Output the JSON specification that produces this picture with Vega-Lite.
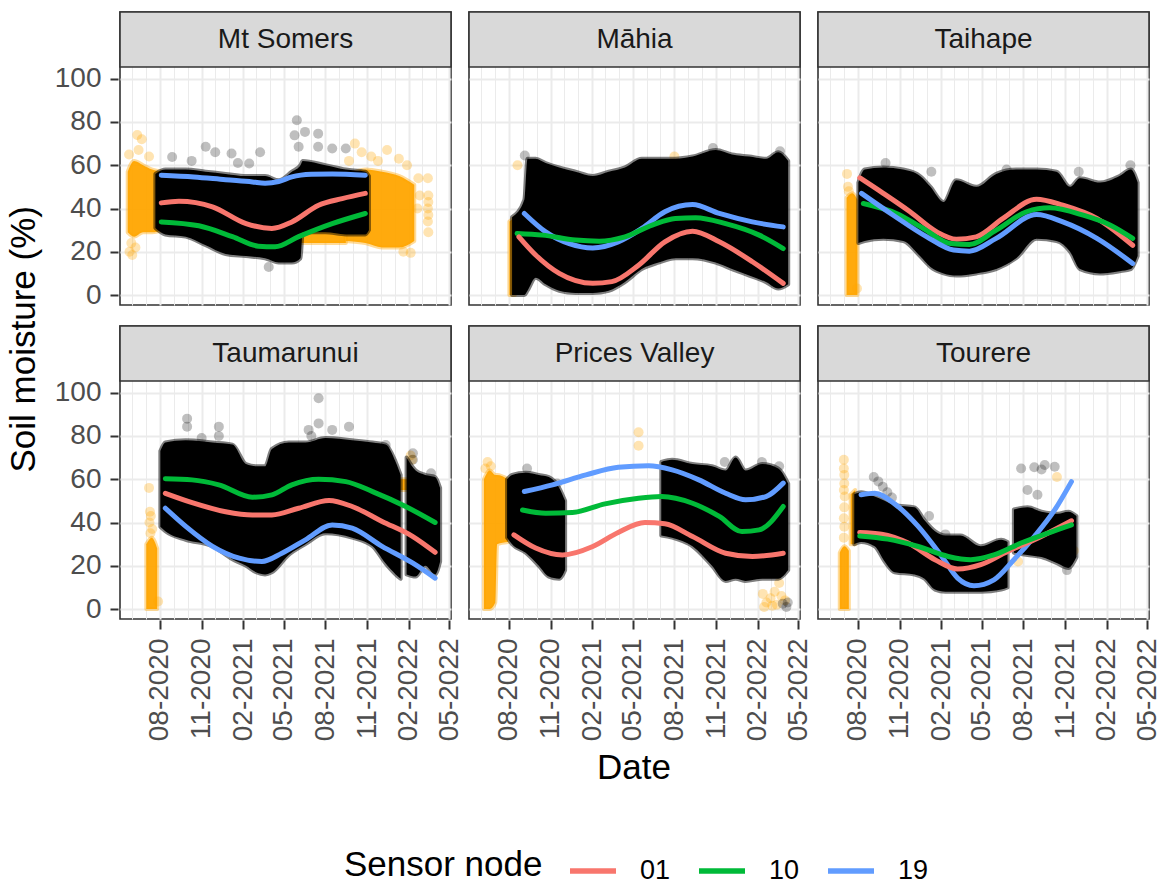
{
  "$schema": "https://vega.github.io/schema/vega-lite/v6.json",
  "background": "#FFFFFF",
  "padding": {"left": 6, "top": 10, "right": 8, "bottom": 0},
  "autosize": {"type": "pad"},
  "config": {
    "font": "Liberation Sans",
    "view": {"stroke": "#333333", "strokeWidth": 1.6, "fill": "#FFFFFF"},
    "axis": {
      "domain": false,
      "gridColor": "#EBEBEB",
      "labelFont": "Liberation Sans",
      "labelFontSize": 28,
      "labelColor": "#4D4D4D",
      "tickColor": "#333333",
      "tickWidth": 2
    },
    "legend": {"labelFont": "Liberation Sans", "titleFont": "Liberation Sans"}
  },
  "datasets": {
    "sites": [
      {"site": "Mt Somers", "prow": 1, "pcol": 1},
      {"site": "Māhia", "prow": 1, "pcol": 2},
      {"site": "Taihape", "prow": 1, "pcol": 3},
      {"site": "Taumarunui", "prow": 2, "pcol": 1},
      {"site": "Prices Valley", "prow": 2, "pcol": 2},
      {"site": "Tourere", "prow": 2, "pcol": 3}
    ],
    "soil": [
      {"site":"Mt Somers","kind":"strip"},
      {"site":"Māhia","kind":"strip"},
      {"site":"Taihape","kind":"strip"},
      {"site":"Taumarunui","kind":"strip"},
      {"site":"Prices Valley","kind":"strip"},
      {"site":"Tourere","kind":"strip"},

      {"site":"Mt Somers","kind":"fit","node":"01","date":"2020-08-04","v":42.6},
      {"site":"Mt Somers","kind":"fit","node":"01","date":"2020-09-12","v":43.4},
      {"site":"Mt Somers","kind":"fit","node":"01","date":"2020-11-25","v":40.8},
      {"site":"Mt Somers","kind":"fit","node":"01","date":"2021-02-07","v":33},
      {"site":"Mt Somers","kind":"fit","node":"01","date":"2021-04-05","v":30.8},
      {"site":"Mt Somers","kind":"fit","node":"01","date":"2021-05-19","v":33.8},
      {"site":"Mt Somers","kind":"fit","node":"01","date":"2021-07-17","v":41.5},
      {"site":"Mt Somers","kind":"fit","node":"01","date":"2021-09-07","v":44.6},
      {"site":"Mt Somers","kind":"fit","node":"01","date":"2021-10-28","v":47},
      {"site":"Mt Somers","kind":"fit","node":"10","date":"2020-08-04","v":33.8},
      {"site":"Mt Somers","kind":"fit","node":"10","date":"2020-10-26","v":32},
      {"site":"Mt Somers","kind":"fit","node":"10","date":"2021-01-08","v":27},
      {"site":"Mt Somers","kind":"fit","node":"10","date":"2021-03-06","v":22.6},
      {"site":"Mt Somers","kind":"fit","node":"10","date":"2021-04-12","v":22.3},
      {"site":"Mt Somers","kind":"fit","node":"10","date":"2021-06-03","v":27},
      {"site":"Mt Somers","kind":"fit","node":"10","date":"2021-08-16","v":33},
      {"site":"Mt Somers","kind":"fit","node":"10","date":"2021-10-28","v":37.7},
      {"site":"Mt Somers","kind":"fit","node":"19","date":"2020-08-04","v":55.4},
      {"site":"Mt Somers","kind":"fit","node":"19","date":"2020-10-15","v":54.6},
      {"site":"Mt Somers","kind":"fit","node":"19","date":"2020-12-24","v":53.3},
      {"site":"Mt Somers","kind":"fit","node":"19","date":"2021-02-21","v":52.3},
      {"site":"Mt Somers","kind":"fit","node":"19","date":"2021-03-21","v":51.7},
      {"site":"Mt Somers","kind":"fit","node":"19","date":"2021-04-20","v":52.5},
      {"site":"Mt Somers","kind":"fit","node":"19","date":"2021-05-19","v":54.6},
      {"site":"Mt Somers","kind":"fit","node":"19","date":"2021-07-01","v":55.8},
      {"site":"Mt Somers","kind":"fit","node":"19","date":"2021-08-16","v":56},
      {"site":"Mt Somers","kind":"fit","node":"19","date":"2021-10-28","v":55.4},
      {"site":"Mt Somers","kind":"band","col":"orange","grp":"o1","date":"2020-05-22","lo":29,"hi":57},
      {"site":"Mt Somers","kind":"band","col":"orange","grp":"o1","date":"2020-06-05","lo":27,"hi":62},
      {"site":"Mt Somers","kind":"band","col":"orange","grp":"o1","date":"2020-06-25","lo":29,"hi":60},
      {"site":"Mt Somers","kind":"band","col":"orange","grp":"o1","date":"2020-07-15","lo":29,"hi":58},
      {"site":"Mt Somers","kind":"band","col":"orange","grp":"o1","date":"2020-08-06","lo":30,"hi":57},
      {"site":"Mt Somers","kind":"band","col":"orange","grp":"o2","date":"2021-06-05","lo":24,"hi":30},
      {"site":"Mt Somers","kind":"band","col":"orange","grp":"o2","date":"2021-09-15","lo":24,"hi":30},
      {"site":"Mt Somers","kind":"band","col":"orange","grp":"o3","date":"2021-09-15","lo":25,"hi":55},
      {"site":"Mt Somers","kind":"band","col":"orange","grp":"o3","date":"2021-10-28","lo":24,"hi":58},
      {"site":"Mt Somers","kind":"band","col":"orange","grp":"o3","date":"2021-12-04","lo":22,"hi":57},
      {"site":"Mt Somers","kind":"band","col":"orange","grp":"o3","date":"2022-01-11","lo":22,"hi":55},
      {"site":"Mt Somers","kind":"band","col":"orange","grp":"o3","date":"2022-02-13","lo":25,"hi":51},
      {"site":"Mt Somers","kind":"band","col":"black","grp":"b1","date":"2020-07-22","lo":31,"hi":56},
      {"site":"Mt Somers","kind":"band","col":"black","grp":"b1","date":"2020-08-13","lo":28,"hi":58},
      {"site":"Mt Somers","kind":"band","col":"black","grp":"b1","date":"2020-09-27","lo":27,"hi":58},
      {"site":"Mt Somers","kind":"band","col":"black","grp":"b1","date":"2020-11-10","lo":23,"hi":57},
      {"site":"Mt Somers","kind":"band","col":"black","grp":"b1","date":"2020-12-24","lo":19,"hi":56},
      {"site":"Mt Somers","kind":"band","col":"black","grp":"b1","date":"2021-02-07","lo":18,"hi":55},
      {"site":"Mt Somers","kind":"band","col":"black","grp":"b1","date":"2021-03-21","lo":17,"hi":55},
      {"site":"Mt Somers","kind":"band","col":"black","grp":"b1","date":"2021-04-20","lo":15,"hi":53},
      {"site":"Mt Somers","kind":"band","col":"black","grp":"b1","date":"2021-05-19","lo":15,"hi":57},
      {"site":"Mt Somers","kind":"band","col":"black","grp":"b1","date":"2021-06-07","lo":17,"hi":60},
      {"site":"Mt Somers","kind":"band","col":"black","grp":"b1","date":"2021-06-12","lo":29,"hi":62},
      {"site":"Mt Somers","kind":"band","col":"black","grp":"b1","date":"2021-08-01","lo":29,"hi":60},
      {"site":"Mt Somers","kind":"band","col":"black","grp":"b1","date":"2021-09-15","lo":28,"hi":58},
      {"site":"Mt Somers","kind":"band","col":"black","grp":"b1","date":"2021-10-28","lo":28,"hi":57},
      {"site":"Mt Somers","kind":"band","col":"black","grp":"b1","date":"2021-11-05","lo":30,"hi":55},
      {"site":"Mt Somers","kind":"pt","col":"orange","date":"2020-05-26","v":20},
      {"site":"Mt Somers","kind":"pt","col":"orange","date":"2020-06-01","v":18.5},
      {"site":"Mt Somers","kind":"pt","col":"orange","date":"2020-06-08","v":22},
      {"site":"Mt Somers","kind":"pt","col":"orange","date":"2020-05-30","v":24},
      {"site":"Mt Somers","kind":"pt","col":"orange","date":"2020-06-12","v":74},
      {"site":"Mt Somers","kind":"pt","col":"orange","date":"2020-06-22","v":72},
      {"site":"Mt Somers","kind":"pt","col":"orange","date":"2020-06-15","v":67},
      {"site":"Mt Somers","kind":"pt","col":"orange","date":"2020-05-25","v":65},
      {"site":"Mt Somers","kind":"pt","col":"orange","date":"2020-07-08","v":64},
      {"site":"Mt Somers","kind":"pt","col":"orange","date":"2021-09-22","v":62},
      {"site":"Mt Somers","kind":"pt","col":"orange","date":"2021-10-05","v":70},
      {"site":"Mt Somers","kind":"pt","col":"orange","date":"2021-10-20","v":66},
      {"site":"Mt Somers","kind":"pt","col":"orange","date":"2021-11-10","v":64},
      {"site":"Mt Somers","kind":"pt","col":"orange","date":"2021-11-25","v":62},
      {"site":"Mt Somers","kind":"pt","col":"orange","date":"2021-12-15","v":67},
      {"site":"Mt Somers","kind":"pt","col":"orange","date":"2022-01-10","v":63},
      {"site":"Mt Somers","kind":"pt","col":"orange","date":"2022-01-28","v":60},
      {"site":"Mt Somers","kind":"pt","col":"orange","date":"2022-01-20","v":20},
      {"site":"Mt Somers","kind":"pt","col":"orange","date":"2022-02-05","v":19.5},
      {"site":"Mt Somers","kind":"pt","col":"orange","date":"2022-02-22","v":54},
      {"site":"Mt Somers","kind":"pt","col":"orange","date":"2022-02-25","v":46},
      {"site":"Mt Somers","kind":"pt","col":"orange","date":"2022-02-20","v":40},
      {"site":"Mt Somers","kind":"pt","col":"orange","date":"2022-03-15","v":54},
      {"site":"Mt Somers","kind":"pt","col":"orange","date":"2022-03-16","v":46},
      {"site":"Mt Somers","kind":"pt","col":"orange","date":"2022-03-16","v":43},
      {"site":"Mt Somers","kind":"pt","col":"orange","date":"2022-03-15","v":40},
      {"site":"Mt Somers","kind":"pt","col":"orange","date":"2022-03-16","v":37},
      {"site":"Mt Somers","kind":"pt","col":"orange","date":"2022-03-15","v":34},
      {"site":"Mt Somers","kind":"pt","col":"orange","date":"2022-03-16","v":29},
      {"site":"Mt Somers","kind":"pt","col":"black","date":"2020-08-28","v":63.8},
      {"site":"Mt Somers","kind":"pt","col":"black","date":"2020-10-10","v":62},
      {"site":"Mt Somers","kind":"pt","col":"black","date":"2020-11-10","v":68.5},
      {"site":"Mt Somers","kind":"pt","col":"black","date":"2020-12-01","v":66},
      {"site":"Mt Somers","kind":"pt","col":"black","date":"2021-01-06","v":65.4},
      {"site":"Mt Somers","kind":"pt","col":"black","date":"2021-01-20","v":61},
      {"site":"Mt Somers","kind":"pt","col":"black","date":"2021-02-14","v":60.8},
      {"site":"Mt Somers","kind":"pt","col":"black","date":"2021-03-10","v":66},
      {"site":"Mt Somers","kind":"pt","col":"black","date":"2021-05-30","v":80.8},
      {"site":"Mt Somers","kind":"pt","col":"black","date":"2021-05-25","v":73.8},
      {"site":"Mt Somers","kind":"pt","col":"black","date":"2021-06-17","v":75.4},
      {"site":"Mt Somers","kind":"pt","col":"black","date":"2021-07-16","v":74.6},
      {"site":"Mt Somers","kind":"pt","col":"black","date":"2021-06-03","v":68.5},
      {"site":"Mt Somers","kind":"pt","col":"black","date":"2021-07-16","v":68.5},
      {"site":"Mt Somers","kind":"pt","col":"black","date":"2021-08-16","v":67.7},
      {"site":"Mt Somers","kind":"pt","col":"black","date":"2021-09-15","v":67.7},
      {"site":"Mt Somers","kind":"pt","col":"black","date":"2021-03-29","v":13},

      {"site":"Māhia","kind":"fit","node":"19","date":"2020-09-04","v":37.7},
      {"site":"Māhia","kind":"fit","node":"19","date":"2020-10-21","v":29.2},
      {"site":"Māhia","kind":"fit","node":"19","date":"2020-12-12","v":23.8},
      {"site":"Māhia","kind":"fit","node":"19","date":"2021-02-02","v":21.8},
      {"site":"Māhia","kind":"fit","node":"19","date":"2021-03-30","v":24.6},
      {"site":"Māhia","kind":"fit","node":"19","date":"2021-05-21","v":30.8},
      {"site":"Māhia","kind":"fit","node":"19","date":"2021-07-11","v":38.5},
      {"site":"Māhia","kind":"fit","node":"19","date":"2021-09-10","v":41.8},
      {"site":"Māhia","kind":"fit","node":"19","date":"2021-11-08","v":37.7},
      {"site":"Māhia","kind":"fit","node":"19","date":"2022-01-20","v":33.8},
      {"site":"Māhia","kind":"fit","node":"19","date":"2022-03-29","v":31.5},
      {"site":"Māhia","kind":"fit","node":"10","date":"2020-08-19","v":28.5},
      {"site":"Māhia","kind":"fit","node":"10","date":"2020-10-14","v":27.7},
      {"site":"Māhia","kind":"fit","node":"10","date":"2020-12-26","v":25.4},
      {"site":"Māhia","kind":"fit","node":"10","date":"2021-02-16","v":24.9},
      {"site":"Māhia","kind":"fit","node":"10","date":"2021-04-14","v":26.9},
      {"site":"Māhia","kind":"fit","node":"10","date":"2021-06-13","v":32.3},
      {"site":"Māhia","kind":"fit","node":"10","date":"2021-08-03","v":35.4},
      {"site":"Māhia","kind":"fit","node":"10","date":"2021-09-17","v":35.7},
      {"site":"Māhia","kind":"fit","node":"10","date":"2021-11-22","v":33},
      {"site":"Māhia","kind":"fit","node":"10","date":"2022-02-04","v":27.7},
      {"site":"Māhia","kind":"fit","node":"10","date":"2022-03-29","v":21.5},
      {"site":"Māhia","kind":"fit","node":"01","date":"2020-08-23","v":26.9},
      {"site":"Māhia","kind":"fit","node":"01","date":"2020-09-29","v":18.5},
      {"site":"Māhia","kind":"fit","node":"01","date":"2020-11-20","v":10},
      {"site":"Māhia","kind":"fit","node":"01","date":"2021-02-02","v":5.4},
      {"site":"Māhia","kind":"fit","node":"01","date":"2021-03-16","v":6.2},
      {"site":"Māhia","kind":"fit","node":"01","date":"2021-05-14","v":13.8},
      {"site":"Māhia","kind":"fit","node":"01","date":"2021-07-11","v":24.6},
      {"site":"Māhia","kind":"fit","node":"01","date":"2021-09-10","v":29.5},
      {"site":"Māhia","kind":"fit","node":"01","date":"2021-11-08","v":24.6},
      {"site":"Māhia","kind":"fit","node":"01","date":"2022-01-20","v":15.4},
      {"site":"Māhia","kind":"fit","node":"01","date":"2022-03-29","v":5.4},
      {"site":"Māhia","kind":"band","col":"orange","grp":"o1","date":"2020-08-02","lo":0,"hi":34},
      {"site":"Māhia","kind":"band","col":"orange","grp":"o1","date":"2020-08-14","lo":0,"hi":36},
      {"site":"Māhia","kind":"band","col":"black","grp":"b1","date":"2020-08-08","lo":0,"hi":36},
      {"site":"Māhia","kind":"band","col":"black","grp":"b1","date":"2020-09-04","lo":0,"hi":44},
      {"site":"Māhia","kind":"band","col":"black","grp":"b1","date":"2020-09-11","lo":2,"hi":63},
      {"site":"Māhia","kind":"band","col":"black","grp":"b1","date":"2020-09-29","lo":8,"hi":63},
      {"site":"Māhia","kind":"band","col":"black","grp":"b1","date":"2020-10-21","lo":5,"hi":61},
      {"site":"Māhia","kind":"band","col":"black","grp":"b1","date":"2020-11-20","lo":2,"hi":59},
      {"site":"Māhia","kind":"band","col":"black","grp":"b1","date":"2020-12-26","lo":1,"hi":57},
      {"site":"Māhia","kind":"band","col":"black","grp":"b1","date":"2021-02-02","lo":1,"hi":55},
      {"site":"Māhia","kind":"band","col":"black","grp":"b1","date":"2021-03-09","lo":2,"hi":57},
      {"site":"Māhia","kind":"band","col":"black","grp":"b1","date":"2021-04-14","lo":6,"hi":59},
      {"site":"Māhia","kind":"band","col":"black","grp":"b1","date":"2021-05-21","lo":12,"hi":63},
      {"site":"Māhia","kind":"band","col":"black","grp":"b1","date":"2021-06-27","lo":15,"hi":63},
      {"site":"Māhia","kind":"band","col":"black","grp":"b1","date":"2021-08-03","lo":17,"hi":63},
      {"site":"Māhia","kind":"band","col":"black","grp":"b1","date":"2021-09-10","lo":17,"hi":64},
      {"site":"Māhia","kind":"band","col":"black","grp":"b1","date":"2021-10-31","lo":15,"hi":67},
      {"site":"Māhia","kind":"band","col":"black","grp":"b1","date":"2021-12-06","lo":12,"hi":65},
      {"site":"Māhia","kind":"band","col":"black","grp":"b1","date":"2022-01-13","lo":9,"hi":64},
      {"site":"Māhia","kind":"band","col":"black","grp":"b1","date":"2022-02-19","lo":6,"hi":63},
      {"site":"Māhia","kind":"band","col":"black","grp":"b1","date":"2022-03-18","lo":3,"hi":66},
      {"site":"Māhia","kind":"band","col":"black","grp":"b1","date":"2022-04-09","lo":5,"hi":62},
      {"site":"Māhia","kind":"pt","col":"orange","date":"2020-08-20","v":60},
      {"site":"Māhia","kind":"pt","col":"orange","date":"2021-08-01","v":64},
      {"site":"Māhia","kind":"pt","col":"black","date":"2020-09-05","v":64.5},
      {"site":"Māhia","kind":"pt","col":"black","date":"2021-10-25","v":68},
      {"site":"Māhia","kind":"pt","col":"black","date":"2022-03-22","v":66.5},

      {"site":"Taihape","kind":"fit","node":"01","date":"2020-08-05","v":54.2},
      {"site":"Taihape","kind":"fit","node":"01","date":"2020-09-26","v":47},
      {"site":"Taihape","kind":"fit","node":"01","date":"2020-11-24","v":38.5},
      {"site":"Taihape","kind":"fit","node":"01","date":"2021-01-22","v":29.2},
      {"site":"Taihape","kind":"fit","node":"01","date":"2021-03-06","v":25.8},
      {"site":"Taihape","kind":"fit","node":"01","date":"2021-04-19","v":26.9},
      {"site":"Taihape","kind":"fit","node":"01","date":"2021-06-17","v":35.4},
      {"site":"Taihape","kind":"fit","node":"01","date":"2021-08-30","v":44.3},
      {"site":"Taihape","kind":"fit","node":"01","date":"2021-10-27","v":41.5},
      {"site":"Taihape","kind":"fit","node":"01","date":"2022-01-10","v":35.4},
      {"site":"Taihape","kind":"fit","node":"01","date":"2022-03-30","v":23},
      {"site":"Taihape","kind":"fit","node":"10","date":"2020-08-13","v":42.3},
      {"site":"Taihape","kind":"fit","node":"10","date":"2020-10-25","v":37.7},
      {"site":"Taihape","kind":"fit","node":"10","date":"2020-12-23","v":30.8},
      {"site":"Taihape","kind":"fit","node":"10","date":"2021-02-21","v":23.8},
      {"site":"Taihape","kind":"fit","node":"10","date":"2021-04-04","v":23.4},
      {"site":"Taihape","kind":"fit","node":"10","date":"2021-06-02","v":30},
      {"site":"Taihape","kind":"fit","node":"10","date":"2021-08-08","v":38.5},
      {"site":"Taihape","kind":"fit","node":"10","date":"2021-09-28","v":40.3},
      {"site":"Taihape","kind":"fit","node":"10","date":"2021-12-11","v":36.9},
      {"site":"Taihape","kind":"fit","node":"10","date":"2022-02-09","v":32.3},
      {"site":"Taihape","kind":"fit","node":"10","date":"2022-03-30","v":26.2},
      {"site":"Taihape","kind":"fit","node":"19","date":"2020-08-09","v":47},
      {"site":"Taihape","kind":"fit","node":"19","date":"2020-10-18","v":36.9},
      {"site":"Taihape","kind":"fit","node":"19","date":"2020-12-31","v":26.9},
      {"site":"Taihape","kind":"fit","node":"19","date":"2021-02-28","v":20.8},
      {"site":"Taihape","kind":"fit","node":"19","date":"2021-04-04","v":20.3},
      {"site":"Taihape","kind":"fit","node":"19","date":"2021-06-02","v":26.2},
      {"site":"Taihape","kind":"fit","node":"19","date":"2021-08-30","v":37.2},
      {"site":"Taihape","kind":"fit","node":"19","date":"2021-10-27","v":33.8},
      {"site":"Taihape","kind":"fit","node":"19","date":"2022-01-10","v":26.2},
      {"site":"Taihape","kind":"fit","node":"19","date":"2022-03-30","v":14.6},
      {"site":"Taihape","kind":"band","col":"orange","grp":"o1","date":"2020-07-07","lo":0,"hi":45},
      {"site":"Taihape","kind":"band","col":"orange","grp":"o1","date":"2020-07-20","lo":0,"hi":47},
      {"site":"Taihape","kind":"band","col":"orange","grp":"o1","date":"2020-07-31","lo":0,"hi":44},
      {"site":"Taihape","kind":"band","col":"black","grp":"b1","date":"2020-08-02","lo":24,"hi":52},
      {"site":"Taihape","kind":"band","col":"black","grp":"b1","date":"2020-08-16","lo":25,"hi":58},
      {"site":"Taihape","kind":"band","col":"black","grp":"b1","date":"2020-09-26","lo":26,"hi":59},
      {"site":"Taihape","kind":"band","col":"black","grp":"b1","date":"2020-11-09","lo":25,"hi":58},
      {"site":"Taihape","kind":"band","col":"black","grp":"b1","date":"2020-12-16","lo":18,"hi":55},
      {"site":"Taihape","kind":"band","col":"black","grp":"b1","date":"2021-01-08","lo":13,"hi":50},
      {"site":"Taihape","kind":"band","col":"black","grp":"b1","date":"2021-02-06","lo":10,"hi":43},
      {"site":"Taihape","kind":"band","col":"black","grp":"b1","date":"2021-03-06","lo":9,"hi":53},
      {"site":"Taihape","kind":"band","col":"black","grp":"b1","date":"2021-04-19","lo":10,"hi":50},
      {"site":"Taihape","kind":"band","col":"black","grp":"b1","date":"2021-06-02","lo":12,"hi":56},
      {"site":"Taihape","kind":"band","col":"black","grp":"b1","date":"2021-07-16","lo":17,"hi":58},
      {"site":"Taihape","kind":"band","col":"black","grp":"b1","date":"2021-08-30","lo":26,"hi":58},
      {"site":"Taihape","kind":"band","col":"black","grp":"b1","date":"2021-10-13","lo":25,"hi":57},
      {"site":"Taihape","kind":"band","col":"black","grp":"b1","date":"2021-11-12","lo":20,"hi":50},
      {"site":"Taihape","kind":"band","col":"black","grp":"b1","date":"2021-12-04","lo":12,"hi":54},
      {"site":"Taihape","kind":"band","col":"black","grp":"b1","date":"2022-01-17","lo":10,"hi":52},
      {"site":"Taihape","kind":"band","col":"black","grp":"b1","date":"2022-03-01","lo":11,"hi":55},
      {"site":"Taihape","kind":"band","col":"black","grp":"b1","date":"2022-03-26","lo":12,"hi":58},
      {"site":"Taihape","kind":"band","col":"black","grp":"b1","date":"2022-04-10","lo":18,"hi":52},
      {"site":"Taihape","kind":"pt","col":"orange","date":"2020-07-08","v":56},
      {"site":"Taihape","kind":"pt","col":"orange","date":"2020-07-10","v":50},
      {"site":"Taihape","kind":"pt","col":"orange","date":"2020-07-12","v":48},
      {"site":"Taihape","kind":"pt","col":"orange","date":"2020-07-30","v":3},
      {"site":"Taihape","kind":"pt","col":"black","date":"2020-10-01","v":61},
      {"site":"Taihape","kind":"pt","col":"black","date":"2021-01-10","v":57},
      {"site":"Taihape","kind":"pt","col":"black","date":"2021-06-25","v":58},
      {"site":"Taihape","kind":"pt","col":"black","date":"2021-12-01","v":57},
      {"site":"Taihape","kind":"pt","col":"black","date":"2022-03-25","v":60},

      {"site":"Taumarunui","kind":"fit","node":"10","date":"2020-08-13","v":60.2},
      {"site":"Taumarunui","kind":"fit","node":"10","date":"2020-10-11","v":59.7},
      {"site":"Taumarunui","kind":"fit","node":"10","date":"2020-12-09","v":57.4},
      {"site":"Taumarunui","kind":"fit","node":"10","date":"2021-02-21","v":51.7},
      {"site":"Taumarunui","kind":"fit","node":"10","date":"2021-04-05","v":52.8},
      {"site":"Taumarunui","kind":"fit","node":"10","date":"2021-05-19","v":57.4},
      {"site":"Taumarunui","kind":"fit","node":"10","date":"2021-07-17","v":60},
      {"site":"Taumarunui","kind":"fit","node":"10","date":"2021-09-15","v":58.9},
      {"site":"Taumarunui","kind":"fit","node":"10","date":"2021-11-13","v":54.3},
      {"site":"Taumarunui","kind":"fit","node":"10","date":"2022-01-25","v":47.4},
      {"site":"Taumarunui","kind":"fit","node":"10","date":"2022-03-31","v":40},
      {"site":"Taumarunui","kind":"fit","node":"01","date":"2020-08-13","v":53.5},
      {"site":"Taumarunui","kind":"fit","node":"01","date":"2020-10-11","v":49.2},
      {"site":"Taumarunui","kind":"fit","node":"01","date":"2020-12-24","v":45},
      {"site":"Taumarunui","kind":"fit","node":"01","date":"2021-02-21","v":43.5},
      {"site":"Taumarunui","kind":"fit","node":"01","date":"2021-04-05","v":43.5},
      {"site":"Taumarunui","kind":"fit","node":"01","date":"2021-06-03","v":46.6},
      {"site":"Taumarunui","kind":"fit","node":"01","date":"2021-08-09","v":50.2},
      {"site":"Taumarunui","kind":"fit","node":"01","date":"2021-09-29","v":47.4},
      {"site":"Taumarunui","kind":"fit","node":"01","date":"2021-12-04","v":40.5},
      {"site":"Taumarunui","kind":"fit","node":"01","date":"2022-02-10","v":33.5},
      {"site":"Taumarunui","kind":"fit","node":"01","date":"2022-03-31","v":26.2},
      {"site":"Taumarunui","kind":"fit","node":"19","date":"2020-08-13","v":46.6},
      {"site":"Taumarunui","kind":"fit","node":"19","date":"2020-09-27","v":38.2},
      {"site":"Taumarunui","kind":"fit","node":"19","date":"2020-11-25","v":29},
      {"site":"Taumarunui","kind":"fit","node":"19","date":"2021-01-23","v":23.5},
      {"site":"Taumarunui","kind":"fit","node":"19","date":"2021-03-14","v":22},
      {"site":"Taumarunui","kind":"fit","node":"19","date":"2021-04-27","v":25.8},
      {"site":"Taumarunui","kind":"fit","node":"19","date":"2021-06-18","v":32},
      {"site":"Taumarunui","kind":"fit","node":"19","date":"2021-08-16","v":38.9},
      {"site":"Taumarunui","kind":"fit","node":"19","date":"2021-09-29","v":37.4},
      {"site":"Taumarunui","kind":"fit","node":"19","date":"2021-12-04","v":29},
      {"site":"Taumarunui","kind":"fit","node":"19","date":"2022-02-10","v":21.2},
      {"site":"Taumarunui","kind":"fit","node":"19","date":"2022-03-31","v":14.3},
      {"site":"Taumarunui","kind":"band","col":"orange","grp":"o1","date":"2020-07-02","lo":0,"hi":30},
      {"site":"Taumarunui","kind":"band","col":"orange","grp":"o1","date":"2020-07-14","lo":0,"hi":33},
      {"site":"Taumarunui","kind":"band","col":"orange","grp":"o1","date":"2020-07-26","lo":0,"hi":28},
      {"site":"Taumarunui","kind":"band","col":"orange","grp":"o2","date":"2022-01-12","lo":55,"hi":60},
      {"site":"Taumarunui","kind":"band","col":"orange","grp":"o2","date":"2022-01-30","lo":55,"hi":60},
      {"site":"Taumarunui","kind":"band","col":"black","grp":"b1","date":"2020-08-02","lo":38,"hi":73},
      {"site":"Taumarunui","kind":"band","col":"black","grp":"b1","date":"2020-08-13","lo":36,"hi":77},
      {"site":"Taumarunui","kind":"band","col":"black","grp":"b1","date":"2020-09-27","lo":32,"hi":78},
      {"site":"Taumarunui","kind":"band","col":"black","grp":"b1","date":"2020-11-25","lo":29,"hi":77},
      {"site":"Taumarunui","kind":"band","col":"black","grp":"b1","date":"2021-01-08","lo":23,"hi":76},
      {"site":"Taumarunui","kind":"band","col":"black","grp":"b1","date":"2021-02-07","lo":20,"hi":67},
      {"site":"Taumarunui","kind":"band","col":"black","grp":"b1","date":"2021-03-01","lo":17,"hi":66},
      {"site":"Taumarunui","kind":"band","col":"black","grp":"b1","date":"2021-03-21","lo":16,"hi":66},
      {"site":"Taumarunui","kind":"band","col":"black","grp":"b1","date":"2021-04-05","lo":17,"hi":74},
      {"site":"Taumarunui","kind":"band","col":"black","grp":"b1","date":"2021-05-12","lo":25,"hi":77},
      {"site":"Taumarunui","kind":"band","col":"black","grp":"b1","date":"2021-06-18","lo":30,"hi":77},
      {"site":"Taumarunui","kind":"band","col":"black","grp":"b1","date":"2021-08-01","lo":35,"hi":79},
      {"site":"Taumarunui","kind":"band","col":"black","grp":"b1","date":"2021-09-29","lo":33,"hi":78},
      {"site":"Taumarunui","kind":"band","col":"black","grp":"b1","date":"2021-11-13","lo":29,"hi":77},
      {"site":"Taumarunui","kind":"band","col":"black","grp":"b1","date":"2021-12-12","lo":21,"hi":76},
      {"site":"Taumarunui","kind":"band","col":"black","grp":"b1","date":"2022-01-03","lo":16,"hi":68},
      {"site":"Taumarunui","kind":"band","col":"black","grp":"b1","date":"2022-01-14","lo":14,"hi":62},
      {"site":"Taumarunui","kind":"band","col":"black","grp":"b2","date":"2022-01-27","lo":16,"hi":70},
      {"site":"Taumarunui","kind":"band","col":"black","grp":"b2","date":"2022-02-16","lo":15,"hi":64},
      {"site":"Taumarunui","kind":"band","col":"black","grp":"b2","date":"2022-03-09","lo":20,"hi":62},
      {"site":"Taumarunui","kind":"band","col":"black","grp":"b2","date":"2022-03-31","lo":16,"hi":61},
      {"site":"Taumarunui","kind":"band","col":"black","grp":"b2","date":"2022-04-11","lo":22,"hi":56},
      {"site":"Taumarunui","kind":"pt","col":"orange","date":"2020-07-08","v":56},
      {"site":"Taumarunui","kind":"pt","col":"orange","date":"2020-07-10","v":45},
      {"site":"Taumarunui","kind":"pt","col":"orange","date":"2020-07-12","v":43},
      {"site":"Taumarunui","kind":"pt","col":"orange","date":"2020-07-09","v":40},
      {"site":"Taumarunui","kind":"pt","col":"orange","date":"2020-07-15","v":37},
      {"site":"Taumarunui","kind":"pt","col":"orange","date":"2020-07-11","v":35},
      {"site":"Taumarunui","kind":"pt","col":"orange","date":"2020-07-28","v":3.5},
      {"site":"Taumarunui","kind":"pt","col":"orange","date":"2022-02-05","v":71},
      {"site":"Taumarunui","kind":"pt","col":"orange","date":"2022-02-08","v":69},
      {"site":"Taumarunui","kind":"pt","col":"black","date":"2020-09-30","v":88},
      {"site":"Taumarunui","kind":"pt","col":"black","date":"2020-09-30","v":84.3},
      {"site":"Taumarunui","kind":"pt","col":"black","date":"2020-11-01","v":79},
      {"site":"Taumarunui","kind":"pt","col":"black","date":"2020-12-09","v":84.3},
      {"site":"Taumarunui","kind":"pt","col":"black","date":"2020-12-09","v":80},
      {"site":"Taumarunui","kind":"pt","col":"black","date":"2021-06-25","v":82.8},
      {"site":"Taumarunui","kind":"pt","col":"black","date":"2021-07-01","v":80},
      {"site":"Taumarunui","kind":"pt","col":"black","date":"2021-07-17","v":97.4},
      {"site":"Taumarunui","kind":"pt","col":"black","date":"2021-07-17","v":85.8},
      {"site":"Taumarunui","kind":"pt","col":"black","date":"2021-08-16","v":82.8},
      {"site":"Taumarunui","kind":"pt","col":"black","date":"2021-09-22","v":84.3},
      {"site":"Taumarunui","kind":"pt","col":"black","date":"2021-12-12","v":75.8},
      {"site":"Taumarunui","kind":"pt","col":"black","date":"2022-02-10","v":72},
      {"site":"Taumarunui","kind":"pt","col":"black","date":"2022-02-10","v":69},
      {"site":"Taumarunui","kind":"pt","col":"black","date":"2022-03-22","v":62.8},

      {"site":"Prices Valley","kind":"fit","node":"19","date":"2020-09-04","v":54.3},
      {"site":"Prices Valley","kind":"fit","node":"19","date":"2020-11-05","v":57.4},
      {"site":"Prices Valley","kind":"fit","node":"19","date":"2021-01-18","v":62},
      {"site":"Prices Valley","kind":"fit","node":"19","date":"2021-03-30","v":65.5},
      {"site":"Prices Valley","kind":"fit","node":"19","date":"2021-06-05","v":66.2},
      {"site":"Prices Valley","kind":"fit","node":"19","date":"2021-07-27","v":64.3},
      {"site":"Prices Valley","kind":"fit","node":"19","date":"2021-09-24","v":59.7},
      {"site":"Prices Valley","kind":"fit","node":"19","date":"2021-11-22","v":53.5},
      {"site":"Prices Valley","kind":"fit","node":"19","date":"2022-01-05","v":50.5},
      {"site":"Prices Valley","kind":"fit","node":"19","date":"2022-02-19","v":52},
      {"site":"Prices Valley","kind":"fit","node":"19","date":"2022-03-29","v":58.2},
      {"site":"Prices Valley","kind":"fit","node":"10","date":"2020-08-31","v":45.8},
      {"site":"Prices Valley","kind":"fit","node":"10","date":"2020-10-21","v":44.3},
      {"site":"Prices Valley","kind":"fit","node":"10","date":"2020-12-19","v":44.6},
      {"site":"Prices Valley","kind":"fit","node":"10","date":"2021-03-01","v":48.6},
      {"site":"Prices Valley","kind":"fit","node":"10","date":"2021-05-14","v":51.2},
      {"site":"Prices Valley","kind":"fit","node":"10","date":"2021-07-04","v":52},
      {"site":"Prices Valley","kind":"fit","node":"10","date":"2021-09-10","v":48.9},
      {"site":"Prices Valley","kind":"fit","node":"10","date":"2021-11-08","v":42.8},
      {"site":"Prices Valley","kind":"fit","node":"10","date":"2021-12-28","v":35.8},
      {"site":"Prices Valley","kind":"fit","node":"10","date":"2022-02-04","v":36.6},
      {"site":"Prices Valley","kind":"fit","node":"10","date":"2022-03-29","v":47.4},
      {"site":"Prices Valley","kind":"fit","node":"01","date":"2020-08-12","v":34.3},
      {"site":"Prices Valley","kind":"fit","node":"01","date":"2020-09-29","v":28.2},
      {"site":"Prices Valley","kind":"fit","node":"01","date":"2020-11-27","v":25},
      {"site":"Prices Valley","kind":"fit","node":"01","date":"2021-02-02","v":28.9},
      {"site":"Prices Valley","kind":"fit","node":"01","date":"2021-03-30","v":35.4},
      {"site":"Prices Valley","kind":"fit","node":"01","date":"2021-05-28","v":40},
      {"site":"Prices Valley","kind":"fit","node":"01","date":"2021-07-11","v":39.4},
      {"site":"Prices Valley","kind":"fit","node":"01","date":"2021-09-10","v":33.5},
      {"site":"Prices Valley","kind":"fit","node":"01","date":"2021-11-22","v":25.8},
      {"site":"Prices Valley","kind":"fit","node":"01","date":"2022-01-20","v":24.3},
      {"site":"Prices Valley","kind":"fit","node":"01","date":"2022-03-29","v":25.8},
      {"site":"Prices Valley","kind":"band","col":"orange","grp":"o1","date":"2020-06-07","lo":0,"hi":60},
      {"site":"Prices Valley","kind":"band","col":"orange","grp":"o1","date":"2020-06-20","lo":0,"hi":64},
      {"site":"Prices Valley","kind":"band","col":"orange","grp":"o1","date":"2020-07-02","lo":3,"hi":62},
      {"site":"Prices Valley","kind":"band","col":"orange","grp":"o1","date":"2020-07-06","lo":30,"hi":62},
      {"site":"Prices Valley","kind":"band","col":"orange","grp":"o1","date":"2020-07-30","lo":31,"hi":60},
      {"site":"Prices Valley","kind":"band","col":"black","grp":"b1","date":"2020-07-28","lo":33,"hi":60},
      {"site":"Prices Valley","kind":"band","col":"black","grp":"b1","date":"2020-08-08","lo":30,"hi":62},
      {"site":"Prices Valley","kind":"band","col":"black","grp":"b1","date":"2020-09-07","lo":26,"hi":63},
      {"site":"Prices Valley","kind":"band","col":"black","grp":"b1","date":"2020-10-06","lo":20,"hi":62},
      {"site":"Prices Valley","kind":"band","col":"black","grp":"b1","date":"2020-10-28","lo":15,"hi":61},
      {"site":"Prices Valley","kind":"band","col":"black","grp":"b1","date":"2020-11-20","lo":14,"hi":56},
      {"site":"Prices Valley","kind":"band","col":"black","grp":"b1","date":"2020-12-03","lo":18,"hi":50},
      {"site":"Prices Valley","kind":"band","col":"black","grp":"b2","date":"2021-07-03","lo":34,"hi":68},
      {"site":"Prices Valley","kind":"band","col":"black","grp":"b2","date":"2021-07-27","lo":33,"hi":69},
      {"site":"Prices Valley","kind":"band","col":"black","grp":"b2","date":"2021-09-10","lo":29,"hi":67},
      {"site":"Prices Valley","kind":"band","col":"black","grp":"b2","date":"2021-10-23","lo":20,"hi":66},
      {"site":"Prices Valley","kind":"band","col":"black","grp":"b2","date":"2021-11-22","lo":13,"hi":64},
      {"site":"Prices Valley","kind":"band","col":"black","grp":"b2","date":"2021-12-14","lo":14,"hi":70},
      {"site":"Prices Valley","kind":"band","col":"black","grp":"b2","date":"2022-01-05","lo":13,"hi":64},
      {"site":"Prices Valley","kind":"band","col":"black","grp":"b2","date":"2022-02-11","lo":14,"hi":67},
      {"site":"Prices Valley","kind":"band","col":"black","grp":"b2","date":"2022-03-18","lo":14,"hi":65},
      {"site":"Prices Valley","kind":"band","col":"black","grp":"b2","date":"2022-04-09","lo":18,"hi":58},
      {"site":"Prices Valley","kind":"pt","col":"orange","date":"2020-06-15","v":68},
      {"site":"Prices Valley","kind":"pt","col":"orange","date":"2020-06-22","v":66},
      {"site":"Prices Valley","kind":"pt","col":"orange","date":"2020-06-10","v":65},
      {"site":"Prices Valley","kind":"pt","col":"orange","date":"2021-05-14","v":81.7},
      {"site":"Prices Valley","kind":"pt","col":"orange","date":"2021-05-14","v":75.5},
      {"site":"Prices Valley","kind":"pt","col":"orange","date":"2022-02-12","v":7},
      {"site":"Prices Valley","kind":"pt","col":"orange","date":"2022-02-20","v":3},
      {"site":"Prices Valley","kind":"pt","col":"orange","date":"2022-03-01","v":5},
      {"site":"Prices Valley","kind":"pt","col":"orange","date":"2022-03-10","v":8},
      {"site":"Prices Valley","kind":"pt","col":"orange","date":"2022-03-15","v":2},
      {"site":"Prices Valley","kind":"pt","col":"orange","date":"2022-03-20","v":12},
      {"site":"Prices Valley","kind":"pt","col":"orange","date":"2022-03-25","v":6},
      {"site":"Prices Valley","kind":"pt","col":"orange","date":"2022-04-02","v":4},
      {"site":"Prices Valley","kind":"pt","col":"orange","date":"2022-02-15","v":1},
      {"site":"Prices Valley","kind":"pt","col":"orange","date":"2022-03-05","v":1.5},
      {"site":"Prices Valley","kind":"pt","col":"black","date":"2022-03-28","v":2.5},
      {"site":"Prices Valley","kind":"pt","col":"black","date":"2022-04-05","v":1},
      {"site":"Prices Valley","kind":"pt","col":"black","date":"2022-04-08","v":3},
      {"site":"Prices Valley","kind":"pt","col":"black","date":"2020-09-10","v":65},
      {"site":"Prices Valley","kind":"pt","col":"black","date":"2020-11-15","v":58},
      {"site":"Prices Valley","kind":"pt","col":"black","date":"2021-11-20","v":68},
      {"site":"Prices Valley","kind":"pt","col":"black","date":"2022-02-10","v":68},
      {"site":"Prices Valley","kind":"pt","col":"black","date":"2022-03-20","v":66},

      {"site":"Tourere","kind":"fit","node":"19","date":"2020-08-08","v":52.8},
      {"site":"Tourere","kind":"fit","node":"19","date":"2020-09-07","v":53.5},
      {"site":"Tourere","kind":"fit","node":"19","date":"2020-10-21","v":48.6},
      {"site":"Tourere","kind":"fit","node":"19","date":"2020-12-12","v":38.2},
      {"site":"Tourere","kind":"fit","node":"19","date":"2021-02-02","v":24.3},
      {"site":"Tourere","kind":"fit","node":"19","date":"2021-03-09","v":14.3},
      {"site":"Tourere","kind":"fit","node":"19","date":"2021-04-14","v":10.8},
      {"site":"Tourere","kind":"fit","node":"19","date":"2021-05-28","v":13.5},
      {"site":"Tourere","kind":"fit","node":"19","date":"2021-07-11","v":22.8},
      {"site":"Tourere","kind":"fit","node":"19","date":"2021-08-25","v":33.5},
      {"site":"Tourere","kind":"fit","node":"19","date":"2021-10-09","v":45.8},
      {"site":"Tourere","kind":"fit","node":"19","date":"2021-11-15","v":58.9},
      {"site":"Tourere","kind":"fit","node":"01","date":"2020-08-05","v":35.4},
      {"site":"Tourere","kind":"fit","node":"01","date":"2020-09-22","v":34.6},
      {"site":"Tourere","kind":"fit","node":"01","date":"2020-11-20","v":30.5},
      {"site":"Tourere","kind":"fit","node":"01","date":"2021-01-18","v":22.8},
      {"site":"Tourere","kind":"fit","node":"01","date":"2021-03-09","v":18.5},
      {"site":"Tourere","kind":"fit","node":"01","date":"2021-04-29","v":20.5},
      {"site":"Tourere","kind":"fit","node":"01","date":"2021-06-27","v":26.6},
      {"site":"Tourere","kind":"fit","node":"01","date":"2021-08-25","v":32},
      {"site":"Tourere","kind":"fit","node":"01","date":"2021-11-15","v":40.8},
      {"site":"Tourere","kind":"fit","node":"10","date":"2020-08-05","v":33.8},
      {"site":"Tourere","kind":"fit","node":"10","date":"2020-10-06","v":32.3},
      {"site":"Tourere","kind":"fit","node":"10","date":"2020-12-12","v":28.9},
      {"site":"Tourere","kind":"fit","node":"10","date":"2021-02-16","v":24.3},
      {"site":"Tourere","kind":"fit","node":"10","date":"2021-04-07","v":22.8},
      {"site":"Tourere","kind":"fit","node":"10","date":"2021-05-28","v":25},
      {"site":"Tourere","kind":"fit","node":"10","date":"2021-07-27","v":30.5},
      {"site":"Tourere","kind":"fit","node":"10","date":"2021-09-24","v":35.1},
      {"site":"Tourere","kind":"fit","node":"10","date":"2021-11-15","v":38.9},
      {"site":"Tourere","kind":"band","col":"orange","grp":"o1","date":"2020-06-22","lo":0,"hi":26},
      {"site":"Tourere","kind":"band","col":"orange","grp":"o1","date":"2020-07-02","lo":0,"hi":29},
      {"site":"Tourere","kind":"band","col":"orange","grp":"o1","date":"2020-07-12","lo":0,"hi":27},
      {"site":"Tourere","kind":"band","col":"orange","grp":"o2","date":"2020-07-16","lo":30,"hi":53},
      {"site":"Tourere","kind":"band","col":"orange","grp":"o2","date":"2020-07-26","lo":30,"hi":55},
      {"site":"Tourere","kind":"band","col":"black","grp":"b1","date":"2020-07-24","lo":30,"hi":53},
      {"site":"Tourere","kind":"band","col":"black","grp":"b1","date":"2020-08-08","lo":31,"hi":54},
      {"site":"Tourere","kind":"band","col":"black","grp":"b1","date":"2020-09-07","lo":29,"hi":52},
      {"site":"Tourere","kind":"band","col":"black","grp":"b1","date":"2020-09-29","lo":22,"hi":50},
      {"site":"Tourere","kind":"band","col":"black","grp":"b1","date":"2020-10-21","lo":17,"hi":48},
      {"site":"Tourere","kind":"band","col":"black","grp":"b1","date":"2020-12-04","lo":16,"hi":47},
      {"site":"Tourere","kind":"band","col":"black","grp":"b1","date":"2020-12-26","lo":14,"hi":41},
      {"site":"Tourere","kind":"band","col":"black","grp":"b1","date":"2021-01-18","lo":9,"hi":36},
      {"site":"Tourere","kind":"band","col":"black","grp":"b1","date":"2021-02-10","lo":8,"hi":34},
      {"site":"Tourere","kind":"band","col":"black","grp":"b1","date":"2021-03-15","lo":8,"hi":34},
      {"site":"Tourere","kind":"band","col":"black","grp":"b1","date":"2021-04-29","lo":8,"hi":29},
      {"site":"Tourere","kind":"band","col":"black","grp":"b1","date":"2021-06-13","lo":9,"hi":32},
      {"site":"Tourere","kind":"band","col":"black","grp":"b1","date":"2021-06-27","lo":10,"hi":31},
      {"site":"Tourere","kind":"band","col":"black","grp":"b2","date":"2021-07-11","lo":26,"hi":46},
      {"site":"Tourere","kind":"band","col":"black","grp":"b2","date":"2021-08-10","lo":25,"hi":47},
      {"site":"Tourere","kind":"band","col":"black","grp":"b2","date":"2021-09-10","lo":24,"hi":45},
      {"site":"Tourere","kind":"band","col":"black","grp":"b2","date":"2021-10-16","lo":21,"hi":44},
      {"site":"Tourere","kind":"band","col":"black","grp":"b2","date":"2021-11-08","lo":19,"hi":45},
      {"site":"Tourere","kind":"band","col":"black","grp":"b2","date":"2021-11-26","lo":24,"hi":43},
      {"site":"Tourere","kind":"pt","col":"orange","date":"2020-07-01","v":69},
      {"site":"Tourere","kind":"pt","col":"orange","date":"2020-07-01","v":65},
      {"site":"Tourere","kind":"pt","col":"orange","date":"2020-07-02","v":62},
      {"site":"Tourere","kind":"pt","col":"orange","date":"2020-07-02","v":58},
      {"site":"Tourere","kind":"pt","col":"orange","date":"2020-07-01","v":55},
      {"site":"Tourere","kind":"pt","col":"orange","date":"2020-07-03","v":52},
      {"site":"Tourere","kind":"pt","col":"orange","date":"2020-07-02","v":47},
      {"site":"Tourere","kind":"pt","col":"orange","date":"2020-07-01","v":42},
      {"site":"Tourere","kind":"pt","col":"orange","date":"2020-07-02","v":38},
      {"site":"Tourere","kind":"pt","col":"orange","date":"2020-07-01","v":33},
      {"site":"Tourere","kind":"pt","col":"orange","date":"2021-10-14","v":61},
      {"site":"Tourere","kind":"pt","col":"orange","date":"2021-07-20","v":22},
      {"site":"Tourere","kind":"pt","col":"orange","date":"2021-11-20","v":27},
      {"site":"Tourere","kind":"pt","col":"black","date":"2020-09-05","v":61},
      {"site":"Tourere","kind":"pt","col":"black","date":"2020-09-15","v":59},
      {"site":"Tourere","kind":"pt","col":"black","date":"2020-09-25","v":56.5},
      {"site":"Tourere","kind":"pt","col":"black","date":"2020-10-05","v":54},
      {"site":"Tourere","kind":"pt","col":"black","date":"2020-10-15","v":51.5},
      {"site":"Tourere","kind":"pt","col":"black","date":"2021-07-27","v":65},
      {"site":"Tourere","kind":"pt","col":"black","date":"2021-08-25","v":65.5},
      {"site":"Tourere","kind":"pt","col":"black","date":"2021-09-10","v":64.5},
      {"site":"Tourere","kind":"pt","col":"black","date":"2021-09-17","v":66.6},
      {"site":"Tourere","kind":"pt","col":"black","date":"2021-10-09","v":65.8},
      {"site":"Tourere","kind":"pt","col":"black","date":"2021-08-10","v":55},
      {"site":"Tourere","kind":"pt","col":"black","date":"2021-09-01","v":52.8},
      {"site":"Tourere","kind":"pt","col":"black","date":"2021-11-05","v":18},
      {"site":"Tourere","kind":"pt","col":"black","date":"2021-01-05","v":43},
      {"site":"Tourere","kind":"pt","col":"black","date":"2021-02-10","v":34.5}
    ]
  },
  "data": {"name": "soil"},
  "transform": [
    {"lookup": "site", "from": {"data": {"name": "sites"}, "key": "site", "fields": ["prow", "pcol"]}}
  ],
  "facet": {
    "row": {
      "field": "prow", "type": "ordinal",
      "header": {
        "labels": false,
        "labelPadding": 0,
        "title": "Soil moisture (%)\u00a0\u00a0\u00a0\u00a0\u00a0\u200b",
        "titleOrient": "left",
        "titleFont": "Liberation Sans", "titleFontSize": 35, "titleFontWeight": "normal", "titleColor": "#000000",
        "titlePadding": 2
      }
    },
    "column": {
      "field": "pcol", "type": "ordinal",
      "header": {
        "labels": false,
        "labelPadding": 0,
        "title": "Date",
        "titleOrient": "bottom",
        "titleFont": "Liberation Sans", "titleFontSize": 35, "titleFontWeight": "normal", "titleColor": "#000000",
        "titlePadding": 0
      }
    }
  },
  "spacing": {"row": 18, "column": 14},
  "spec": {
    "width": 331,
    "height": 293,
    "layer": [
      {
        "transform": [{"filter": "datum.kind == 'band' && datum.col == 'orange'"}],
        "mark": {"type": "area", "interpolate": "monotone", "fill": "#FFA500", "fillOpacity": 0.95, "stroke": "#FFA500", "strokeOpacity": 0.4, "strokeWidth": 4, "strokeJoin": "round", "clip": true},
        "encoding": {
          "x": {
            "field": "date", "type": "temporal",
            "scale": {"domain": [{"year": 2020, "month": 5, "date": 5}, {"year": 2022, "month": 5, "date": 5}]},
            "axis": {
              "title": null, "domain": false, "format": "%m-%Y",
              "values": [
                {"year": 2020, "month": 6, "date": 1}, {"year": 2020, "month": 7, "date": 1}, {"year": 2020, "month": 8, "date": 1},
                {"year": 2020, "month": 9, "date": 1}, {"year": 2020, "month": 10, "date": 1}, {"year": 2020, "month": 11, "date": 1},
                {"year": 2020, "month": 12, "date": 1}, {"year": 2021, "month": 1, "date": 1}, {"year": 2021, "month": 2, "date": 1},
                {"year": 2021, "month": 3, "date": 1}, {"year": 2021, "month": 4, "date": 1}, {"year": 2021, "month": 5, "date": 1},
                {"year": 2021, "month": 6, "date": 1}, {"year": 2021, "month": 7, "date": 1}, {"year": 2021, "month": 8, "date": 1},
                {"year": 2021, "month": 9, "date": 1}, {"year": 2021, "month": 10, "date": 1}, {"year": 2021, "month": 11, "date": 1},
                {"year": 2021, "month": 12, "date": 1}, {"year": 2022, "month": 1, "date": 1}, {"year": 2022, "month": 2, "date": 1},
                {"year": 2022, "month": 3, "date": 1}, {"year": 2022, "month": 4, "date": 1}, {"year": 2022, "month": 5, "date": 1}
              ],
              "labelExpr": "month(datum.value) % 3 == 1 ? datum.label : ''",
              "gridWidth": {"condition": {"test": "month(datum.value) % 3 == 1", "value": 2}, "value": 1},
              "tickOpacity": {"condition": {"test": "month(datum.value) % 3 == 1", "value": 1}, "value": 0},
              "tickSize": 9, "labelAngle": 270, "labelAlign": "right", "labelBaseline": "middle", "labelPadding": 9,
              "labelFlush": false, "labelOverlap": false, "labelBound": false
            }
          },
          "y": {"field": "lo", "type": "quantitative", "scale": {"domain": [-4.6, 130.82], "nice": false, "zero": false}},
          "y2": {"field": "hi"},
          "detail": {"field": "grp", "type": "nominal"}
        }
      },
      {
        "transform": [{"filter": "datum.kind == 'pt' && datum.col == 'orange'"}],
        "mark": {"type": "circle", "size": 100, "color": "#FFA500", "opacity": 0.3, "clip": true},
        "encoding": {
          "x": {
            "field": "date", "type": "temporal",
            "scale": {"domain": [{"year": 2020, "month": 5, "date": 5}, {"year": 2022, "month": 5, "date": 5}]},
            "axis": {
              "title": null, "domain": false, "format": "%m-%Y",
              "values": [
                {"year": 2020, "month": 6, "date": 1}, {"year": 2020, "month": 7, "date": 1}, {"year": 2020, "month": 8, "date": 1},
                {"year": 2020, "month": 9, "date": 1}, {"year": 2020, "month": 10, "date": 1}, {"year": 2020, "month": 11, "date": 1},
                {"year": 2020, "month": 12, "date": 1}, {"year": 2021, "month": 1, "date": 1}, {"year": 2021, "month": 2, "date": 1},
                {"year": 2021, "month": 3, "date": 1}, {"year": 2021, "month": 4, "date": 1}, {"year": 2021, "month": 5, "date": 1},
                {"year": 2021, "month": 6, "date": 1}, {"year": 2021, "month": 7, "date": 1}, {"year": 2021, "month": 8, "date": 1},
                {"year": 2021, "month": 9, "date": 1}, {"year": 2021, "month": 10, "date": 1}, {"year": 2021, "month": 11, "date": 1},
                {"year": 2021, "month": 12, "date": 1}, {"year": 2022, "month": 1, "date": 1}, {"year": 2022, "month": 2, "date": 1},
                {"year": 2022, "month": 3, "date": 1}, {"year": 2022, "month": 4, "date": 1}, {"year": 2022, "month": 5, "date": 1}
              ],
              "labelExpr": "month(datum.value) % 3 == 1 ? datum.label : ''",
              "gridWidth": {"condition": {"test": "month(datum.value) % 3 == 1", "value": 2}, "value": 1},
              "tickOpacity": {"condition": {"test": "month(datum.value) % 3 == 1", "value": 1}, "value": 0},
              "tickSize": 9, "labelAngle": 270, "labelAlign": "right", "labelBaseline": "middle", "labelPadding": 9,
              "labelFlush": false, "labelOverlap": false, "labelBound": false
            }
          },
          "y": {"field": "v", "type": "quantitative", "scale": {"domain": [-4.6, 130.82], "nice": false, "zero": false}}
        }
      },
      {
        "transform": [{"filter": "datum.kind == 'band' && datum.col == 'black'"}],
        "mark": {"type": "area", "interpolate": "monotone", "fill": "#000000", "fillOpacity": 1, "stroke": "#000000", "strokeOpacity": 0.5, "strokeWidth": 4, "strokeJoin": "round", "clip": true},
        "encoding": {
          "x": {
            "field": "date", "type": "temporal",
            "scale": {"domain": [{"year": 2020, "month": 5, "date": 5}, {"year": 2022, "month": 5, "date": 5}]},
            "axis": {
              "title": null, "domain": false, "format": "%m-%Y",
              "values": [
                {"year": 2020, "month": 6, "date": 1}, {"year": 2020, "month": 7, "date": 1}, {"year": 2020, "month": 8, "date": 1},
                {"year": 2020, "month": 9, "date": 1}, {"year": 2020, "month": 10, "date": 1}, {"year": 2020, "month": 11, "date": 1},
                {"year": 2020, "month": 12, "date": 1}, {"year": 2021, "month": 1, "date": 1}, {"year": 2021, "month": 2, "date": 1},
                {"year": 2021, "month": 3, "date": 1}, {"year": 2021, "month": 4, "date": 1}, {"year": 2021, "month": 5, "date": 1},
                {"year": 2021, "month": 6, "date": 1}, {"year": 2021, "month": 7, "date": 1}, {"year": 2021, "month": 8, "date": 1},
                {"year": 2021, "month": 9, "date": 1}, {"year": 2021, "month": 10, "date": 1}, {"year": 2021, "month": 11, "date": 1},
                {"year": 2021, "month": 12, "date": 1}, {"year": 2022, "month": 1, "date": 1}, {"year": 2022, "month": 2, "date": 1},
                {"year": 2022, "month": 3, "date": 1}, {"year": 2022, "month": 4, "date": 1}, {"year": 2022, "month": 5, "date": 1}
              ],
              "labelExpr": "month(datum.value) % 3 == 1 ? datum.label : ''",
              "gridWidth": {"condition": {"test": "month(datum.value) % 3 == 1", "value": 2}, "value": 1},
              "tickOpacity": {"condition": {"test": "month(datum.value) % 3 == 1", "value": 1}, "value": 0},
              "tickSize": 9, "labelAngle": 270, "labelAlign": "right", "labelBaseline": "middle", "labelPadding": 9,
              "labelFlush": false, "labelOverlap": false, "labelBound": false
            }
          },
          "y": {"field": "lo", "type": "quantitative", "scale": {"domain": [-4.6, 130.82], "nice": false, "zero": false}},
          "y2": {"field": "hi"},
          "detail": {"field": "grp", "type": "nominal"}
        }
      },
      {
        "transform": [{"filter": "datum.kind == 'pt' && datum.col == 'black'"}],
        "mark": {"type": "circle", "size": 100, "color": "#000000", "opacity": 0.25, "clip": true},
        "encoding": {
          "x": {
            "field": "date", "type": "temporal",
            "scale": {"domain": [{"year": 2020, "month": 5, "date": 5}, {"year": 2022, "month": 5, "date": 5}]},
            "axis": {
              "title": null, "domain": false, "format": "%m-%Y",
              "values": [
                {"year": 2020, "month": 6, "date": 1}, {"year": 2020, "month": 7, "date": 1}, {"year": 2020, "month": 8, "date": 1},
                {"year": 2020, "month": 9, "date": 1}, {"year": 2020, "month": 10, "date": 1}, {"year": 2020, "month": 11, "date": 1},
                {"year": 2020, "month": 12, "date": 1}, {"year": 2021, "month": 1, "date": 1}, {"year": 2021, "month": 2, "date": 1},
                {"year": 2021, "month": 3, "date": 1}, {"year": 2021, "month": 4, "date": 1}, {"year": 2021, "month": 5, "date": 1},
                {"year": 2021, "month": 6, "date": 1}, {"year": 2021, "month": 7, "date": 1}, {"year": 2021, "month": 8, "date": 1},
                {"year": 2021, "month": 9, "date": 1}, {"year": 2021, "month": 10, "date": 1}, {"year": 2021, "month": 11, "date": 1},
                {"year": 2021, "month": 12, "date": 1}, {"year": 2022, "month": 1, "date": 1}, {"year": 2022, "month": 2, "date": 1},
                {"year": 2022, "month": 3, "date": 1}, {"year": 2022, "month": 4, "date": 1}, {"year": 2022, "month": 5, "date": 1}
              ],
              "labelExpr": "month(datum.value) % 3 == 1 ? datum.label : ''",
              "gridWidth": {"condition": {"test": "month(datum.value) % 3 == 1", "value": 2}, "value": 1},
              "tickOpacity": {"condition": {"test": "month(datum.value) % 3 == 1", "value": 1}, "value": 0},
              "tickSize": 9, "labelAngle": 270, "labelAlign": "right", "labelBaseline": "middle", "labelPadding": 9,
              "labelFlush": false, "labelOverlap": false, "labelBound": false
            }
          },
          "y": {"field": "v", "type": "quantitative", "scale": {"domain": [-4.6, 130.82], "nice": false, "zero": false}}
        }
      },
      {
        "transform": [{"filter": "datum.kind == 'fit'"}],
        "mark": {"type": "line", "interpolate": "monotone", "strokeWidth": 5, "strokeCap": "round", "clip": true},
        "encoding": {
          "x": {
            "field": "date", "type": "temporal",
            "scale": {"domain": [{"year": 2020, "month": 5, "date": 5}, {"year": 2022, "month": 5, "date": 5}]},
            "axis": {
              "title": null, "domain": false, "format": "%m-%Y",
              "values": [
                {"year": 2020, "month": 6, "date": 1}, {"year": 2020, "month": 7, "date": 1}, {"year": 2020, "month": 8, "date": 1},
                {"year": 2020, "month": 9, "date": 1}, {"year": 2020, "month": 10, "date": 1}, {"year": 2020, "month": 11, "date": 1},
                {"year": 2020, "month": 12, "date": 1}, {"year": 2021, "month": 1, "date": 1}, {"year": 2021, "month": 2, "date": 1},
                {"year": 2021, "month": 3, "date": 1}, {"year": 2021, "month": 4, "date": 1}, {"year": 2021, "month": 5, "date": 1},
                {"year": 2021, "month": 6, "date": 1}, {"year": 2021, "month": 7, "date": 1}, {"year": 2021, "month": 8, "date": 1},
                {"year": 2021, "month": 9, "date": 1}, {"year": 2021, "month": 10, "date": 1}, {"year": 2021, "month": 11, "date": 1},
                {"year": 2021, "month": 12, "date": 1}, {"year": 2022, "month": 1, "date": 1}, {"year": 2022, "month": 2, "date": 1},
                {"year": 2022, "month": 3, "date": 1}, {"year": 2022, "month": 4, "date": 1}, {"year": 2022, "month": 5, "date": 1}
              ],
              "labelExpr": "month(datum.value) % 3 == 1 ? datum.label : ''",
              "gridWidth": {"condition": {"test": "month(datum.value) % 3 == 1", "value": 2}, "value": 1},
              "tickOpacity": {"condition": {"test": "month(datum.value) % 3 == 1", "value": 1}, "value": 0},
              "tickSize": 9, "labelAngle": 270, "labelAlign": "right", "labelBaseline": "middle", "labelPadding": 9,
              "labelFlush": false, "labelOverlap": false, "labelBound": false
            }
          },
          "y": {
            "field": "v", "type": "quantitative",
            "scale": {"domain": [-4.6, 130.82], "nice": false, "zero": false},
            "axis": {
              "title": null,
              "values": [0, 10, 20, 30, 40, 50, 60, 70, 80, 90, 100],
              "labelExpr": "datum.value % 20 == 0 ? datum.label : ''",
              "gridWidth": {"condition": {"test": "datum.value % 20 == 0", "value": 2}, "value": 1},
              "tickOpacity": {"condition": {"test": "datum.value % 20 == 0", "value": 1}, "value": 0},
              "tickSize": 8,
              "labelPadding": 9
            }
          },
          "color": {
            "field": "node", "type": "nominal",
            "scale": {"domain": ["01", "10", "19"], "range": ["#F8766D", "#00BA38", "#619CFF"]},
            "legend": {
              "title": "Sensor node", "orient": "none", "legendX": 224, "legendY": 833,
              "direction": "horizontal", "titleOrient": "left", "titleFontSize": 35, "titleFontWeight": "normal",
              "titleColor": "#000000", "titlePadding": 24, "titleLimit": 600, "titleAnchor": "middle", "titleBaseline": "middle",
              "labelFontSize": 27, "labelColor": "#000000", "labelOffset": 21, "columnPadding": 17,
              "symbolType": "stroke", "symbolSize": 2116, "symbolStrokeWidth": 5.5, "padding": 0
            }
          }
        }
      },
      {
        "transform": [{"filter": "datum.kind == 'strip'"}],
        "mark": {"type": "rect", "fill": "#D9D9D9", "stroke": "#333333", "strokeWidth": 1.6},
        "encoding": {
          "x": {
            "datum": {"year": 2020, "month": 5, "date": 5}, "type": "temporal",
            "scale": {"domain": [{"year": 2020, "month": 5, "date": 5}, {"year": 2022, "month": 5, "date": 5}]},
            "axis": {
              "title": null, "domain": false, "format": "%m-%Y",
              "values": [
                {"year": 2020, "month": 6, "date": 1}, {"year": 2020, "month": 7, "date": 1}, {"year": 2020, "month": 8, "date": 1},
                {"year": 2020, "month": 9, "date": 1}, {"year": 2020, "month": 10, "date": 1}, {"year": 2020, "month": 11, "date": 1},
                {"year": 2020, "month": 12, "date": 1}, {"year": 2021, "month": 1, "date": 1}, {"year": 2021, "month": 2, "date": 1},
                {"year": 2021, "month": 3, "date": 1}, {"year": 2021, "month": 4, "date": 1}, {"year": 2021, "month": 5, "date": 1},
                {"year": 2021, "month": 6, "date": 1}, {"year": 2021, "month": 7, "date": 1}, {"year": 2021, "month": 8, "date": 1},
                {"year": 2021, "month": 9, "date": 1}, {"year": 2021, "month": 10, "date": 1}, {"year": 2021, "month": 11, "date": 1},
                {"year": 2021, "month": 12, "date": 1}, {"year": 2022, "month": 1, "date": 1}, {"year": 2022, "month": 2, "date": 1},
                {"year": 2022, "month": 3, "date": 1}, {"year": 2022, "month": 4, "date": 1}, {"year": 2022, "month": 5, "date": 1}
              ],
              "labelExpr": "month(datum.value) % 3 == 1 ? datum.label : ''",
              "gridWidth": {"condition": {"test": "month(datum.value) % 3 == 1", "value": 2}, "value": 1},
              "tickOpacity": {"condition": {"test": "month(datum.value) % 3 == 1", "value": 1}, "value": 0},
              "tickSize": 9, "labelAngle": 270, "labelAlign": "right", "labelBaseline": "middle", "labelPadding": 9,
              "labelFlush": false, "labelOverlap": false, "labelBound": false
            }
          },
          "x2": {"datum": {"year": 2022, "month": 5, "date": 5}},
          "y": {"datum": 105.4, "type": "quantitative", "scale": {"domain": [-4.6, 130.82], "nice": false, "zero": false}},
          "y2": {"datum": 130.82}
        }
      },
      {
        "transform": [{"filter": "datum.kind == 'strip'"}],
        "mark": {"type": "text", "fontSize": 28, "font": "Liberation Sans", "color": "#1A1A1A", "align": "center", "baseline": "middle"},
        "encoding": {
          "x": {
            "datum": {"year": 2021, "month": 5, "date": 5}, "type": "temporal",
            "scale": {"domain": [{"year": 2020, "month": 5, "date": 5}, {"year": 2022, "month": 5, "date": 5}]},
            "axis": {
              "title": null, "domain": false, "format": "%m-%Y",
              "values": [
                {"year": 2020, "month": 6, "date": 1}, {"year": 2020, "month": 7, "date": 1}, {"year": 2020, "month": 8, "date": 1},
                {"year": 2020, "month": 9, "date": 1}, {"year": 2020, "month": 10, "date": 1}, {"year": 2020, "month": 11, "date": 1},
                {"year": 2020, "month": 12, "date": 1}, {"year": 2021, "month": 1, "date": 1}, {"year": 2021, "month": 2, "date": 1},
                {"year": 2021, "month": 3, "date": 1}, {"year": 2021, "month": 4, "date": 1}, {"year": 2021, "month": 5, "date": 1},
                {"year": 2021, "month": 6, "date": 1}, {"year": 2021, "month": 7, "date": 1}, {"year": 2021, "month": 8, "date": 1},
                {"year": 2021, "month": 9, "date": 1}, {"year": 2021, "month": 10, "date": 1}, {"year": 2021, "month": 11, "date": 1},
                {"year": 2021, "month": 12, "date": 1}, {"year": 2022, "month": 1, "date": 1}, {"year": 2022, "month": 2, "date": 1},
                {"year": 2022, "month": 3, "date": 1}, {"year": 2022, "month": 4, "date": 1}, {"year": 2022, "month": 5, "date": 1}
              ],
              "labelExpr": "month(datum.value) % 3 == 1 ? datum.label : ''",
              "gridWidth": {"condition": {"test": "month(datum.value) % 3 == 1", "value": 2}, "value": 1},
              "tickOpacity": {"condition": {"test": "month(datum.value) % 3 == 1", "value": 1}, "value": 0},
              "tickSize": 9, "labelAngle": 270, "labelAlign": "right", "labelBaseline": "middle", "labelPadding": 9,
              "labelFlush": false, "labelOverlap": false, "labelBound": false
            }
          },
          "y": {"datum": 118.1, "type": "quantitative", "scale": {"domain": [-4.6, 130.82], "nice": false, "zero": false}},
          "text": {"field": "site", "type": "nominal"}
        }
      }
    ]
  }
}
